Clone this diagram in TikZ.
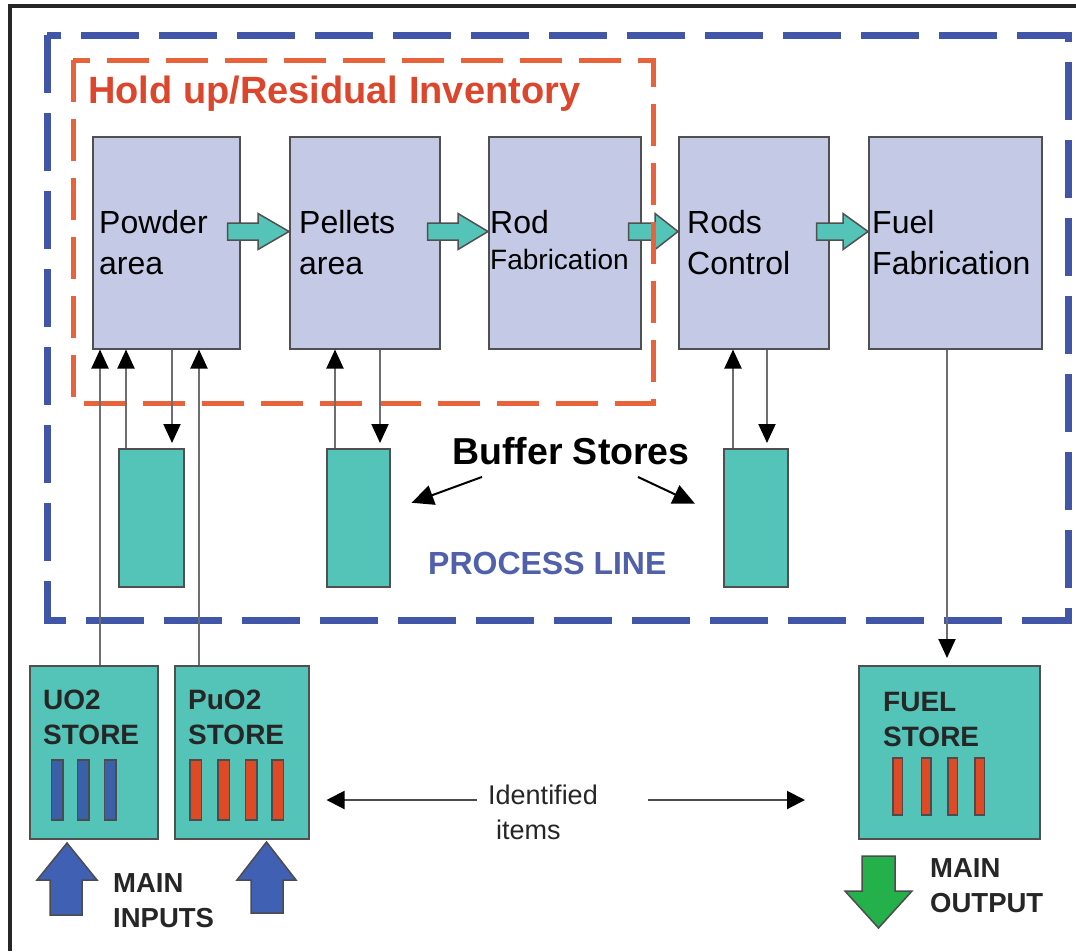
\documentclass[tikz,border=0pt]{standalone}
\usepackage{fontspec}
\setmainfont{Liberation Sans}
\usetikzlibrary{arrows.meta,calc}
\definecolor{lav}{RGB}{196,202,230}
\definecolor{tealf}{RGB}{84,196,184}
\definecolor{dashblue}{RGB}{66,86,168}
\definecolor{dashorange}{RGB}{232,98,60}
\definecolor{titlered}{RGB}{220,70,45}
\definecolor{procblue}{RGB}{80,96,170}
\definecolor{rodblue}{RGB}{58,96,168}
\definecolor{rodred}{RGB}{222,74,38}
\definecolor{inblue}{RGB}{64,96,180}
\definecolor{outgreen}{RGB}{36,176,74}
\definecolor{linegray}{RGB}{110,110,110}
\definecolor{edgegray}{RGB}{80,80,80}
\newcommand\FlowArrowX[3]{%
  \draw[blockarrow] let \p1=($(#1.east|-arrowrow)+(-13,0)$), \p2=(#2.west|-arrowrow) in
  (\x1,\y1+8.5pt) -- (\x2-#3pt,\y1+8.5pt) -- (\x2-#3pt,\y1+18pt) -- (\x2,\y1)
  -- (\x2-#3pt,\y1-18pt) -- (\x2-#3pt,\y1-8.5pt) -- (\x1,\y1-8.5pt) -- cycle;}
\begin{document}
\begin{tikzpicture}[x=1pt,y=-1pt,
  procbox/.style={draw=edgegray, line width=1.5pt, fill=lav, anchor=north west, inner sep=0pt, minimum height=212pt},
  bufbox/.style={draw=edgegray, line width=1.5pt, fill=tealf, anchor=north west, inner sep=0pt, minimum height=138pt},
  storebox/.style={draw=edgegray, line width=1.5pt, fill=tealf, anchor=north west, inner sep=0pt, minimum height=173pt},
  proctext/.style={anchor=north west, inner sep=0pt, align=left, font=\fontsize{32}{41}\selectfont},
  storetext/.style={anchor=north west, inner sep=0pt, align=left, font=\fontsize{28}{35}\selectfont\bfseries, text=black!85},
  maintext/.style={anchor=north west, inner sep=0pt, align=left, font=\fontsize{27.5}{35}\selectfont\bfseries, text=black!85},
  blockarrow/.style={draw=edgegray, line width=1.5pt, fill=tealf},
  bigarrow/.style={draw=black!70, line width=1.5pt},
  conn/.style={draw=linegray, line width=2pt, -{Triangle[width=17pt,length=19pt,color=black]}},
  bsarrow/.style={draw=black, line width=2pt, -{Triangle[width=20pt,length=22pt]}},
  idarrow/.style={draw=black!70, line width=2pt, -{Triangle[width=18pt,length=18pt,color=black]}},
  uorod/.style={draw=black!70, line width=1.2pt, fill=rodblue},
  purod/.style={draw=black!70, line width=1.2pt, fill=rodred}]
\useasboundingbox (0,0) rectangle (1076,951);
\fill[white] (0,0) rectangle (1076,951);
% outer frame (top and left only)
\draw[line width=4pt, black!85] (10,951) -- (10,6) -- (1076,6);
% process line region
\draw[dashblue, line width=7pt, dash pattern=on 58pt off 20pt] (47,35) rectangle (1068,620);
% process boxes
\node[procbox, minimum width=147pt] (powder) at (92,136) {};
\node[procbox, minimum width=150pt] (pellets) at (289,136) {};
\node[procbox, minimum width=152pt] (rodfab) at (488,136) {};
\node[procbox, minimum width=150pt] (rodsctl) at (678,136) {};
\node[procbox, minimum width=173pt] (fuelfab) at (868,136) {};
\node[proctext] (tpowder) at (99,210) {Powder\\area};
\node[proctext] (tpellets) at (299,210) {Pellets\\area};
\node[proctext] (trod) at (490,210) {Rod};
\node[anchor=base west, inner sep=0pt, font=\fontsize{28}{34}\selectfont] (trodfab) at (490,269) {Fabrication};
\node[proctext] (trodsctl) at (687,210) {Rods\\Control};
\node[proctext] (tfuelfab) at (872,210) {Fuel\\Fabrication};
% flow arrows
\coordinate (arrowrow) at (0,231.5);
\FlowArrowX{powder}{pellets}{31}
\FlowArrowX{pellets}{rodfab}{30}
\FlowArrowX{rodfab}{rodsctl}{23}
\FlowArrowX{rodsctl}{fuelfab}{25}
% hold-up region
\draw[dashorange, line width=5pt, dash pattern=on 42pt off 17pt] (73,60) rectangle (653,403);
\node[anchor=base west, inner sep=0pt, text=titlered, font=\fontsize{38}{40}\selectfont\bfseries] (title) at (88,103) {Hold up/Residual Inventory};
% buffer stores
\node[bufbox, minimum width=65pt] (buf1) at (118,448) {};
\node[bufbox, minimum width=63pt] (buf2) at (326,448) {};
\node[bufbox, minimum width=64pt] (buf3) at (723,448) {};
\node[anchor=north west, inner sep=0pt, font=\fontsize{37.5}{40}\selectfont\bfseries] (bufferlbl) at (452,437) {Buffer Stores};
\draw[bsarrow] ($(bufferlbl.south west)+(30,12)$) -- ($(buf2.east)+(21,-15)$);
\draw[bsarrow] ($(bufferlbl.south east)+(-52,12)$) -- ($(buf3.west)+(-28,-14)$);
\node[anchor=north west, inner sep=0pt, text=procblue, font=\fontsize{32}{34}\selectfont\bfseries] (procline) at (428,552) {PROCESS LINE};
% main stores
\node[storebox, minimum width=128pt] (uo2) at (29,665) {};
\node[storebox, minimum width=134pt] (puo2) at (174,665) {};
\node[storebox, minimum width=181pt] (fuelstore) at (858,665) {};
\node[storetext] (tuo2) at (43,690) {UO2\\STORE};
\node[storetext] (tpuo2) at (188,690) {PuO2\\STORE};
\node[storetext] (tfuelstore) at (883,692) {FUEL\\STORE};
% rods
\foreach \x in {51.5,77.5,104.5} \draw[uorod] (\x,760) rectangle ++(11.5,60);
\foreach \x in {190,218,245.5,272} \draw[purod] (\x,760) rectangle ++(11.5,60);
\foreach \x in {893,921.5,948,975} \draw[purod] (\x,758) rectangle ++(9.5,57);
% connectors
\draw[conn] (uo2.north -| 100,0) -- (powder.south -| 100,0);
\draw[conn] (buf1.north -| 126,0) -- (powder.south -| 126,0);
\draw[conn, shorten >=5pt] (powder.south -| 172,0) -- (buf1.north -| 172,0);
\draw[conn] (puo2.north -| 199,0) -- (powder.south -| 199,0);
\draw[conn] (buf2.north -| 335,0) -- (pellets.south -| 335,0);
\draw[conn, shorten >=5pt] (pellets.south -| 380,0) -- (buf2.north -| 380,0);
\draw[conn] (buf3.north -| 733,0) -- (rodsctl.south -| 733,0);
\draw[conn, shorten >=5pt] (rodsctl.south -| 767,0) -- (buf3.north -| 767,0);
\draw[conn, shorten >=7pt] (fuelfab.south -| 947,0) -- (fuelstore.north -| 947,0);
% identified items
\node[anchor=north west, inner sep=0pt, align=left, font=\fontsize{27}{35}\selectfont, text=black!85] (ident) at (488,785) {Identified\\\hspace*{8pt}items};
\draw[idarrow, shorten >=17pt] ($(ident.west|-0,800)+(-11,0)$) -- (puo2.east|-0,800);
\draw[idarrow, shorten >=53pt] ($(ident.east|-0,800)+(50,0)$) -- (fuelstore.west|-0,800);
% main inputs / output
\draw[bigarrow, fill=inblue] (50,915) -- (50,880) -- (37,880) -- (67,843) -- (97,880) -- (82,880) -- (82,915) -- cycle;
\draw[bigarrow, fill=inblue] (251,913) -- (251,880) -- (237,880) -- (266.5,842) -- (296,880) -- (283,880) -- (283,913) -- cycle;
\node[maintext] (inputs) at (113,873) {MAIN\\INPUTS};
\draw[bigarrow, fill=outgreen] (862,856) -- (895,856) -- (895,891) -- (912,891) -- (878.5,928) -- (845,891) -- (862,891) -- cycle;
\node[maintext] (output) at (930,858) {MAIN\\OUTPUT};
\end{tikzpicture}
\end{document}
